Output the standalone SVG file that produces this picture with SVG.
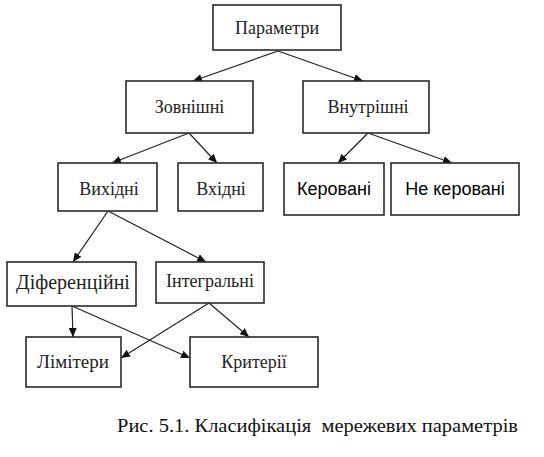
<svg xmlns="http://www.w3.org/2000/svg" width="544" height="457" viewBox="0 0 544 457">
<style>
.box{fill:#fff;stroke:#2a2a2a;stroke-width:1.6}
.t{font-family:"Liberation Serif","DejaVu Serif",serif;font-size:18px;fill:#222;text-anchor:middle}
.s{font-family:"Liberation Sans",Arial,sans-serif;font-size:18px;fill:#000;text-anchor:middle}
.c{stroke:#222;stroke-width:1.2;fill:none;marker-end:url(#ah)}
.cap{font-family:"Liberation Serif","DejaVu Serif",serif;font-size:19px;fill:#111}
</style>
<defs>
<marker id="ah" markerUnits="userSpaceOnUse" markerWidth="10" markerHeight="8" refX="9" refY="4" orient="auto">
<path d="M0,0 L9,4 L0,8 Z" fill="#111"/>
</marker>
</defs>
<rect width="544" height="457" fill="#fff"/>
<g id="connectors">
<line class="c" x1="278" y1="51" x2="193" y2="81"/>
<line class="c" x1="278" y1="51" x2="363" y2="81"/>
<line class="c" x1="189" y1="133" x2="112" y2="163"/>
<line class="c" x1="189" y1="133" x2="217" y2="163"/>
<line class="c" x1="368" y1="133" x2="338" y2="163"/>
<line class="c" x1="368" y1="133" x2="452" y2="163"/>
<line class="c" x1="108" y1="211" x2="73" y2="262"/>
<line class="c" x1="108" y1="211" x2="206" y2="262"/>
<line class="c" x1="72" y1="306" x2="73" y2="337"/>
<line class="c" x1="72" y1="306" x2="190" y2="358"/>
<line class="c" x1="209" y1="303" x2="121" y2="358"/>
<line class="c" x1="209" y1="303" x2="249" y2="337"/>
</g>
<g id="n-parametry"><rect class="box" x="213" y="5" width="128" height="45"/><text class="t" x="277" y="34">Параметри</text></g>
<g id="n-zovnishni"><rect class="box" x="126" y="81" width="127" height="52"/><text class="t" x="189.5" y="113">Зовнішні</text></g>
<g id="n-vnutrishni"><rect class="box" x="303" y="81" width="126" height="52"/><text class="t" x="368" y="113">Внутрішні</text></g>
<g id="n-vykhidni"><rect class="box" x="58" y="163" width="99" height="48"/><text class="t" x="109" y="195">Вихідні</text></g>
<g id="n-vkhidni"><rect class="box" x="178" y="163" width="85" height="48"/><text class="t" x="221" y="195">Вхідні</text></g>
<g id="n-kerovani"><rect class="box" x="284" y="163" width="100" height="52"/><text class="s" x="334" y="195">Керовані</text></g>
<g id="n-ne-kerovani"><rect class="box" x="391" y="163" width="128" height="52"/><text class="s" x="455" y="195">Не керовані</text></g>
<g id="n-dyferentsiini"><rect class="box" x="7" y="262" width="129" height="44"/><text class="t" x="73" y="289" style="font-size:20px">Діференційні</text></g>
<g id="n-intehralni"><rect class="box" x="156" y="262" width="108" height="41"/><text class="t" x="210" y="287">Інтегральні</text></g>
<g id="n-limitery"><rect class="box" x="26" y="337" width="95" height="50"/><text class="t" x="73" y="368" style="font-size:19px">Лімітери</text></g>
<g id="n-kryterii"><rect class="box" x="190" y="337" width="128" height="50"/><text class="t" x="254" y="368">Критерії</text></g>
<text class="cap" x="117" y="432" xml:space="preserve" textLength="401" lengthAdjust="spacingAndGlyphs">Рис. 5.1. Класифікація  мережевих параметрів</text>
</svg>
